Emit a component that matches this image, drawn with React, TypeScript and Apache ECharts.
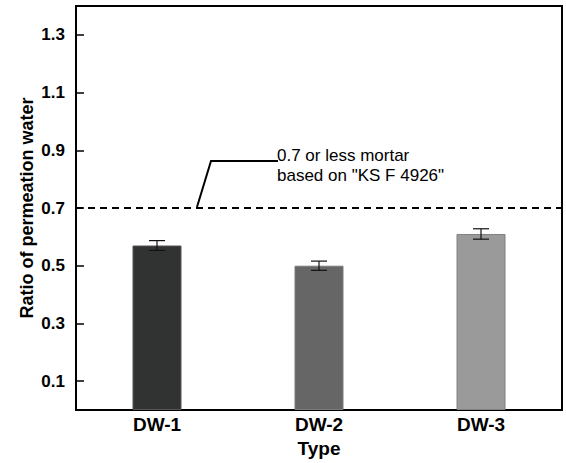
import React, { useEffect, useRef } from "react";
import * as echarts from "echarts";

const categories = ["DW-1", "DW-2", "DW-3"];
const ratios = [0.57, 0.5, 0.61];
const errors = [0.017, 0.016, 0.018];
const barColors = ["#313332", "#666666", "#9a9a9a"];
const barBorders = ["#555555", "#7a7a7a", "#808080"];
const yTickValues = [0.1, 0.3, 0.5, 0.7, 0.9, 1.1, 1.3];
const limitValue = 0.7;
const noteLines = ["0.7 or less mortar", 'based on "KS F 4926"'];

const FONT = "Liberation Sans, Arial, sans-serif";

export default function App() {
  const ref = useRef<HTMLDivElement>(null);
  useEffect(() => {
    document.body.style.margin = "0";
    if (!ref.current) return;
    const chart = echarts.init(ref.current, null, { renderer: "svg" });
    const option: any = {
      animation: false,
      backgroundColor: "#ffffff",
      grid: {
        left: 76,
        right: 4,
        top: 6,
        bottom: 51,
        show: true,
        borderColor: "#000",
        borderWidth: 2,
        backgroundColor: "transparent",
      },
      xAxis: {
        type: "category",
        data: categories,
        name: "Type",
        nameLocation: "middle",
        nameGap: 29,
        nameTextStyle: { fontFamily: FONT, fontWeight: "bold", fontSize: 19, color: "#000" },
        axisLine: { lineStyle: { color: "#000", width: 2 } },
        axisTick: { show: false },
        axisLabel: { fontFamily: FONT, fontWeight: "bold", fontSize: 19, color: "#000", margin: 5 },
        splitLine: { show: false },
      },
      yAxis: {
        type: "value",
        min: 0,
        max: 1.4,
        interval: 0.1,
        name: "Ratio of permeation water",
        nameLocation: "middle",
        nameGap: 40,
        nameMoveOverlap: false,
        nameTextStyle: { fontFamily: FONT, fontWeight: "bold", fontSize: 18, color: "#000" },
        axisLine: { show: true, lineStyle: { color: "#000", width: 2 } },
        axisTick: {
          show: true,
          inside: true,
          length: 8,
          lineStyle: { color: "#000", width: 1.5 },
          customValues: yTickValues,
        },
        axisLabel: {
          fontFamily: FONT,
          fontWeight: "bold",
          fontSize: 17,
          color: "#000",
          margin: 11,
          customValues: yTickValues,
          formatter: (v: number) => v.toFixed(1),
        },
        splitLine: { show: false },
      },
      series: [
        {
          type: "bar",
          barWidth: 49,
          data: ratios.map((v, i) => ({
            value: v,
            itemStyle: { color: barColors[i], borderColor: barBorders[i], borderWidth: 1 },
          })),
          markLine: {
            silent: true,
            symbol: "none",
            label: { show: false },
            lineStyle: { color: "#000", type: [7, 5], width: 2 },
            data: [{ yAxis: limitValue }],
          },
          z: 2,
        },
        {
          type: "custom",
          data: ratios.map((v, i) => [i, v - errors[i], v + errors[i]]),
          renderItem: (params: any, api: any) => {
            const x = api.value(0);
            const lo = api.coord([x, api.value(1)]);
            const hi = api.coord([x, api.value(2)]);
            const hw = 8;
            const style = { stroke: "#111", lineWidth: 1.2 };
            return {
              type: "group",
              children: [
                { type: "line", shape: { x1: lo[0], y1: lo[1], x2: hi[0], y2: hi[1] }, style },
                { type: "line", shape: { x1: lo[0] - hw, y1: lo[1], x2: lo[0] + hw, y2: lo[1] }, style },
                { type: "line", shape: { x1: hi[0] - hw, y1: hi[1], x2: hi[0] + hw, y2: hi[1] }, style },
              ],
            };
          },
          z: 5,
        },
      ],
    };
    chart.setOption(option);
    const yLimit = chart.convertToPixel({ yAxisIndex: 0 }, limitValue) as number;
    const elbowY = yLimit - 47;
    chart.setOption({
      graphic: [
        {
          type: "polyline",
          shape: { points: [[197, yLimit - 1], [211, elbowY], [278, elbowY]] },
          style: { stroke: "#000", lineWidth: 2, fill: "none" },
          z: 10,
        },
        {
          type: "text",
          x: 277,
          y: elbowY - 16,
          style: {
            text: noteLines.join("\n"),
            fontFamily: FONT,
            fontSize: 17,
            lineHeight: 20,
            fill: "#000",
          },
          z: 10,
        },
      ],
    });
    return () => chart.dispose();
  }, []);
  return <div ref={ref} style={{ width: 566, height: 463 }} />;
}
